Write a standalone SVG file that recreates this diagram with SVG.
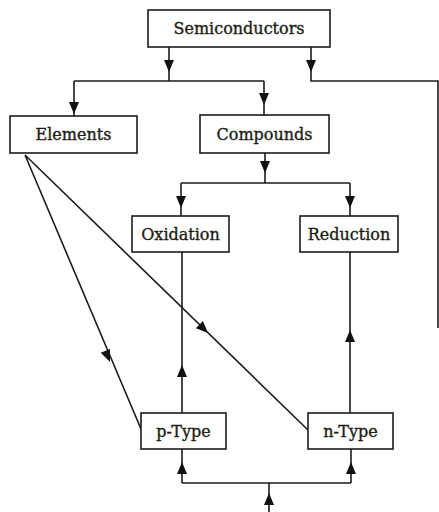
<svg xmlns="http://www.w3.org/2000/svg" xmlns:xlink="http://www.w3.org/1999/xlink" width="439" height="512" viewBox="0 0 439 512">
<style>
.box{fill:#fff;stroke:#1c1c1c;stroke-width:1.6}
.lbl{font-family:"DejaVu Serif","Liberation Serif",serif;font-size:16px;fill:#1c1c14;stroke:#1c1c14;stroke-width:0.35;text-anchor:middle}
.ln{fill:none;stroke:#1c1c1c;stroke-width:1.6}
.ah{fill:#111}
</style>
<defs>
<path id="ad" class="ah" d="M0,0 L-5,-12 L5,-12 Z"/>
</defs>
<rect width="439" height="512" fill="#fff"/>
<g id="connectors">
<path class="ln" d="M169,47 V81 M74,81 H264 M74,81 V116 M264,81 V115"/>
<path class="ln" d="M311,47 V81 H438 V328"/>
<path class="ln" d="M265,153 V183 M181,183 H350 M181,183 V216 M350,183 V216"/>
<path class="ln" d="M182,252 V413 M350,252 V413"/>
<path class="ln" d="M25,155 L141,429 M25,155 L308,430"/>
<path class="ln" d="M269,512 V483 M182,483 H351 M182,483 V449 M351,483 V449"/>
<use href="#ad" transform="translate(169,72)"/>
<use href="#ad" transform="translate(311,72)"/>
<use href="#ad" transform="translate(74,114)"/>
<use href="#ad" transform="translate(264,105)"/>
<use href="#ad" transform="translate(265,173)"/>
<use href="#ad" transform="translate(181,208)"/>
<use href="#ad" transform="translate(350,208)"/>
<use href="#ad" transform="translate(350,330) rotate(180)"/>
<use href="#ad" transform="translate(182,365) rotate(180)"/>
<use href="#ad" transform="translate(182,462) rotate(180)"/>
<use href="#ad" transform="translate(351,462) rotate(180)"/>
<use href="#ad" transform="translate(269,493) rotate(180)"/>
<use href="#ad" transform="translate(110,362) rotate(-22.7)"/>
<use href="#ad" transform="translate(208,333) rotate(-45.8)"/>
</g>
<g id="semiconductors"><rect class="box" x="148" y="10" width="182" height="37"/><text class="lbl" x="239" y="34">Semiconductors</text></g>
<g id="elements"><rect class="box" x="10" y="116" width="127" height="37"/><text class="lbl" x="73.5" y="140">Elements</text></g>
<g id="compounds"><rect class="box" x="200" y="115" width="129" height="38"/><text class="lbl" x="264.5" y="139.5">Compounds</text></g>
<g id="oxidation"><rect class="box" x="132" y="216" width="97" height="36"/><text class="lbl" x="180.5" y="240">Oxidation</text></g>
<g id="reduction"><rect class="box" x="300" y="216" width="98" height="36"/><text class="lbl" x="349" y="240">Reduction</text></g>
<g id="ptype"><rect class="box" x="141" y="413" width="85" height="36"/><text class="lbl" x="183.5" y="437">p-Type</text></g>
<g id="ntype"><rect class="box" x="308" y="413" width="85" height="36"/><text class="lbl" x="350.5" y="437">n-Type</text></g>
</svg>
